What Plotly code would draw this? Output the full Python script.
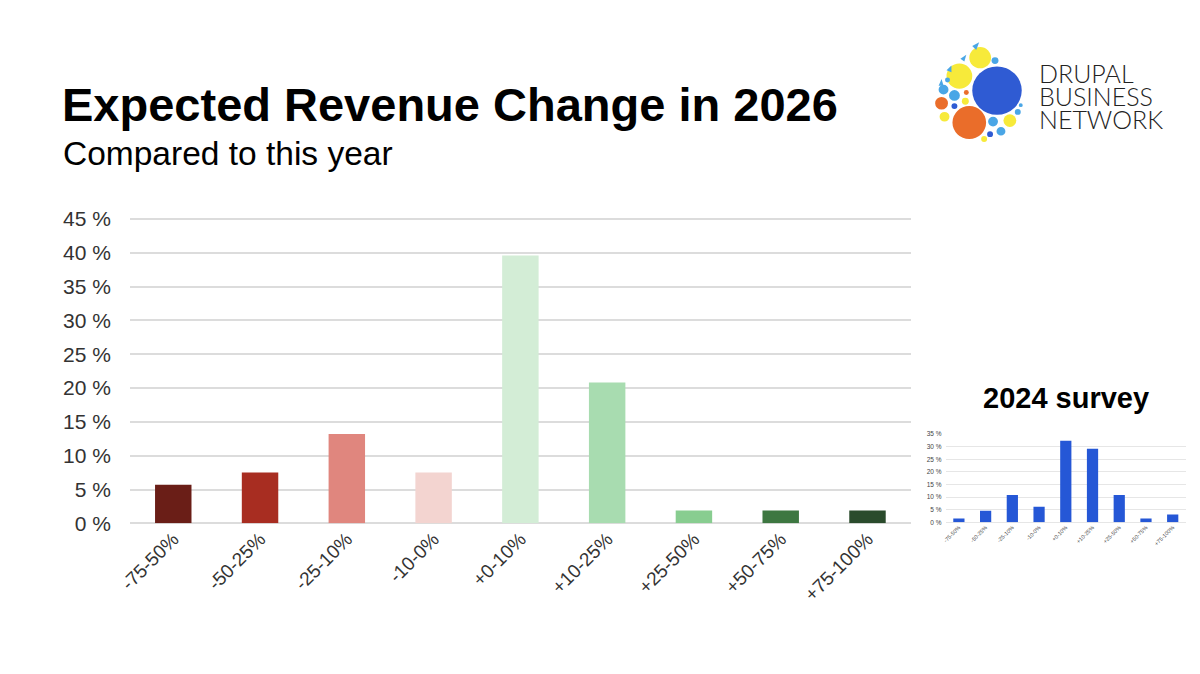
import plotly.graph_objects as go

# figure size chosen so that the page (with the default 8px body margin) fits the window
W, H = 1184, 658
OX, OY = 8, 8  # page offset of the figure

# ---- data ----
categories = ["-75-50%", "-50-25%", "-25-10%", "-10-0%", "+0-10%",
              "+10-25%", "+25-50%", "+50-75%", "+75-100%"]
values_2026 = [5.7, 7.5, 13.2, 7.5, 39.6, 20.8, 1.9, 1.9, 1.9]
values_2024 = [1.5, 4.6, 10.8, 6.2, 32.3, 29.2, 10.8, 1.5, 3.1]
bar_colors_2026 = ["#6a1e17", "#a82d21", "#e0867e", "#f3d4d0", "#d3edd6",
                   "#a8dcb0", "#88cd90", "#3d7741", "#2a4b2c"]
main_ticks = [0, 5, 10, 15, 20, 25, 30, 35, 40, 45]
inset_ticks = [0, 5, 10, 15, 20, 25, 30, 35]

FONT = "Liberation Sans"


def px(x):
    return (x - OX) / W


def py(y):
    return 1 - (y - OY) / H


fig = go.Figure()

fig.add_trace(go.Bar(
    x=categories, y=values_2026, marker=dict(color=bar_colors_2026, line=dict(width=0)),
    xaxis="x", yaxis="y", showlegend=False, hoverinfo="x+y"))

fig.add_trace(go.Bar(
    x=categories, y=values_2024, marker=dict(color="#2557d6", line=dict(width=0)),
    xaxis="x2", yaxis="y2", showlegend=False, hoverinfo="x+y"))

grid = "#dcdcdc"
MAIN_TOP = 45.3
INSET_TOP = 35.3
main_bottom, main_top45 = 530, 215.5
main_top = main_bottom - (main_bottom - main_top45) * MAIN_TOP / 45
inset_bottom, inset_top35 = 529, 437.7
inset_top = inset_bottom - (inset_bottom - inset_top35) * INSET_TOP / 35

fig.update_layout(
    width=W, height=H,
    margin=dict(l=0, r=0, t=0, b=0),
    paper_bgcolor="white", plot_bgcolor="white",
    bargap=0.58,
    font=dict(family=FONT, color="#333333"),
    xaxis=dict(domain=[px(119), px(908)], anchor="y",
               tickangle=-45, tickfont=dict(size=19, color="#333333"),
               showgrid=False, showline=False, ticks="", zeroline=False),
    yaxis=dict(domain=[py(main_bottom), py(main_top)], anchor="x", range=[0, MAIN_TOP],
               tickvals=main_ticks, ticktext=[f"{t} %" for t in main_ticks],
               tickfont=dict(size=21, color="#333333"),
               showgrid=True, gridcolor=grid, gridwidth=1.5,
               zeroline=True, zerolinecolor=grid, zerolinewidth=1.5,
               ticks="", ticklabelstandoff=18),
    xaxis2=dict(domain=[px(943), px(1186)], anchor="y2",
                tickangle=-45, tickfont=dict(size=5.5, color="#444444"),
                showgrid=False, showline=False, ticks="", zeroline=False),
    yaxis2=dict(domain=[py(inset_bottom), py(inset_top)], anchor="x2", range=[0, INSET_TOP],
                tickvals=inset_ticks, ticktext=[f"{t} %" for t in inset_ticks],
                tickfont=dict(size=6.5, color="#444444"),
                showgrid=True, gridcolor="#e6e6e6", gridwidth=1,
                zeroline=True, zerolinecolor="#e6e6e6", zerolinewidth=1,
                ticks="", ticklabelstandoff=3),
)

annotations = [
    dict(text="<b>Expected Revenue Change in 2026</b>", x=px(48), y=py(97),
         xanchor="left", yanchor="middle", font=dict(size=47, color="#000000", family=FONT)),
    dict(text="Compared to this year", x=px(49), y=py(148),
         xanchor="left", yanchor="middle", font=dict(size=33.5, color="#000000", family=FONT)),
    dict(text="<b>2024 survey</b>", x=px(1065), y=py(401),
         xanchor="center", yanchor="middle", font=dict(size=29, color="#000000", family=FONT)),
]
for i, word in enumerate(["DRUPAL", "BUSINESS", "NETWORK"]):
    annotations.append(dict(text=word, x=px(1035), y=py(64.5 + 24 * i),
                            xanchor="left", yanchor="middle",
                            font=dict(size=25, color="#222222", family="Lato", weight=300)))
for a in annotations:
    a.update(xref="paper", yref="paper", showarrow=False)
fig.update_layout(annotations=annotations)

# ---- logo decoration (circles) ----
logo = [
    (995, 83, 25, "#2f5bd3"),
    (967, 116, 17, "#ea6d2a"),
    (957, 68, 13, "#f7ea3a"),
    (978, 49, 11, "#f7ea3a"),
    (941, 82, 5, "#4aa6e6"),
    (952, 88, 5.5, "#4aa6e6"),
    (939, 96, 6.5, "#ea6d2a"),
    (942, 110, 5, "#f7ea3a"),
    (952, 99, 3, "#2f5bd3"),
    (963, 94, 3.5, "#f7ea3a"),
    (964, 85, 2.5, "#ea6d2a"),
    (993, 52, 3.5, "#4aa6e6"),
    (991, 115, 5, "#4aa6e6"),
    (1008, 114, 6.5, "#f7ea3a"),
    (999, 125, 4.5, "#4aa6e6"),
    (1016, 105, 3, "#4aa6e6"),
    (988, 128, 3, "#2f5bd3"),
    (982, 133, 3, "#f7ea3a"),
    (1019, 98, 2, "#4aa6e6"),
    (945, 72, 2.5, "#4aa6e6"),
]
shapes = []
for cx, cy, r, c in logo:
    shapes.append(dict(type="circle", xref="paper", yref="paper",
                       x0=px(cx - r), x1=px(cx + r), y0=py(cy + r), y1=py(cy - r),
                       fillcolor=c, line=dict(width=0), layer="above"))
tri = [((970, 37), (977, 33), (974, 41)), ((958, 50), (964, 46), (962, 53)),
       ((944, 62), (949, 57), (949, 64)), ((936, 78), (939, 71), (941, 78))]
for pts in tri:
    path = "M {} {} L {} {} L {} {} Z".format(px(pts[0][0]), py(pts[0][1]),
                                              px(pts[1][0]), py(pts[1][1]),
                                              px(pts[2][0]), py(pts[2][1]))
    shapes.append(dict(type="path", xref="paper", yref="paper", path=path,
                       fillcolor="#4aa6e6", line=dict(width=0)))
fig.update_layout(shapes=shapes)

fig.write_html("out.html")
